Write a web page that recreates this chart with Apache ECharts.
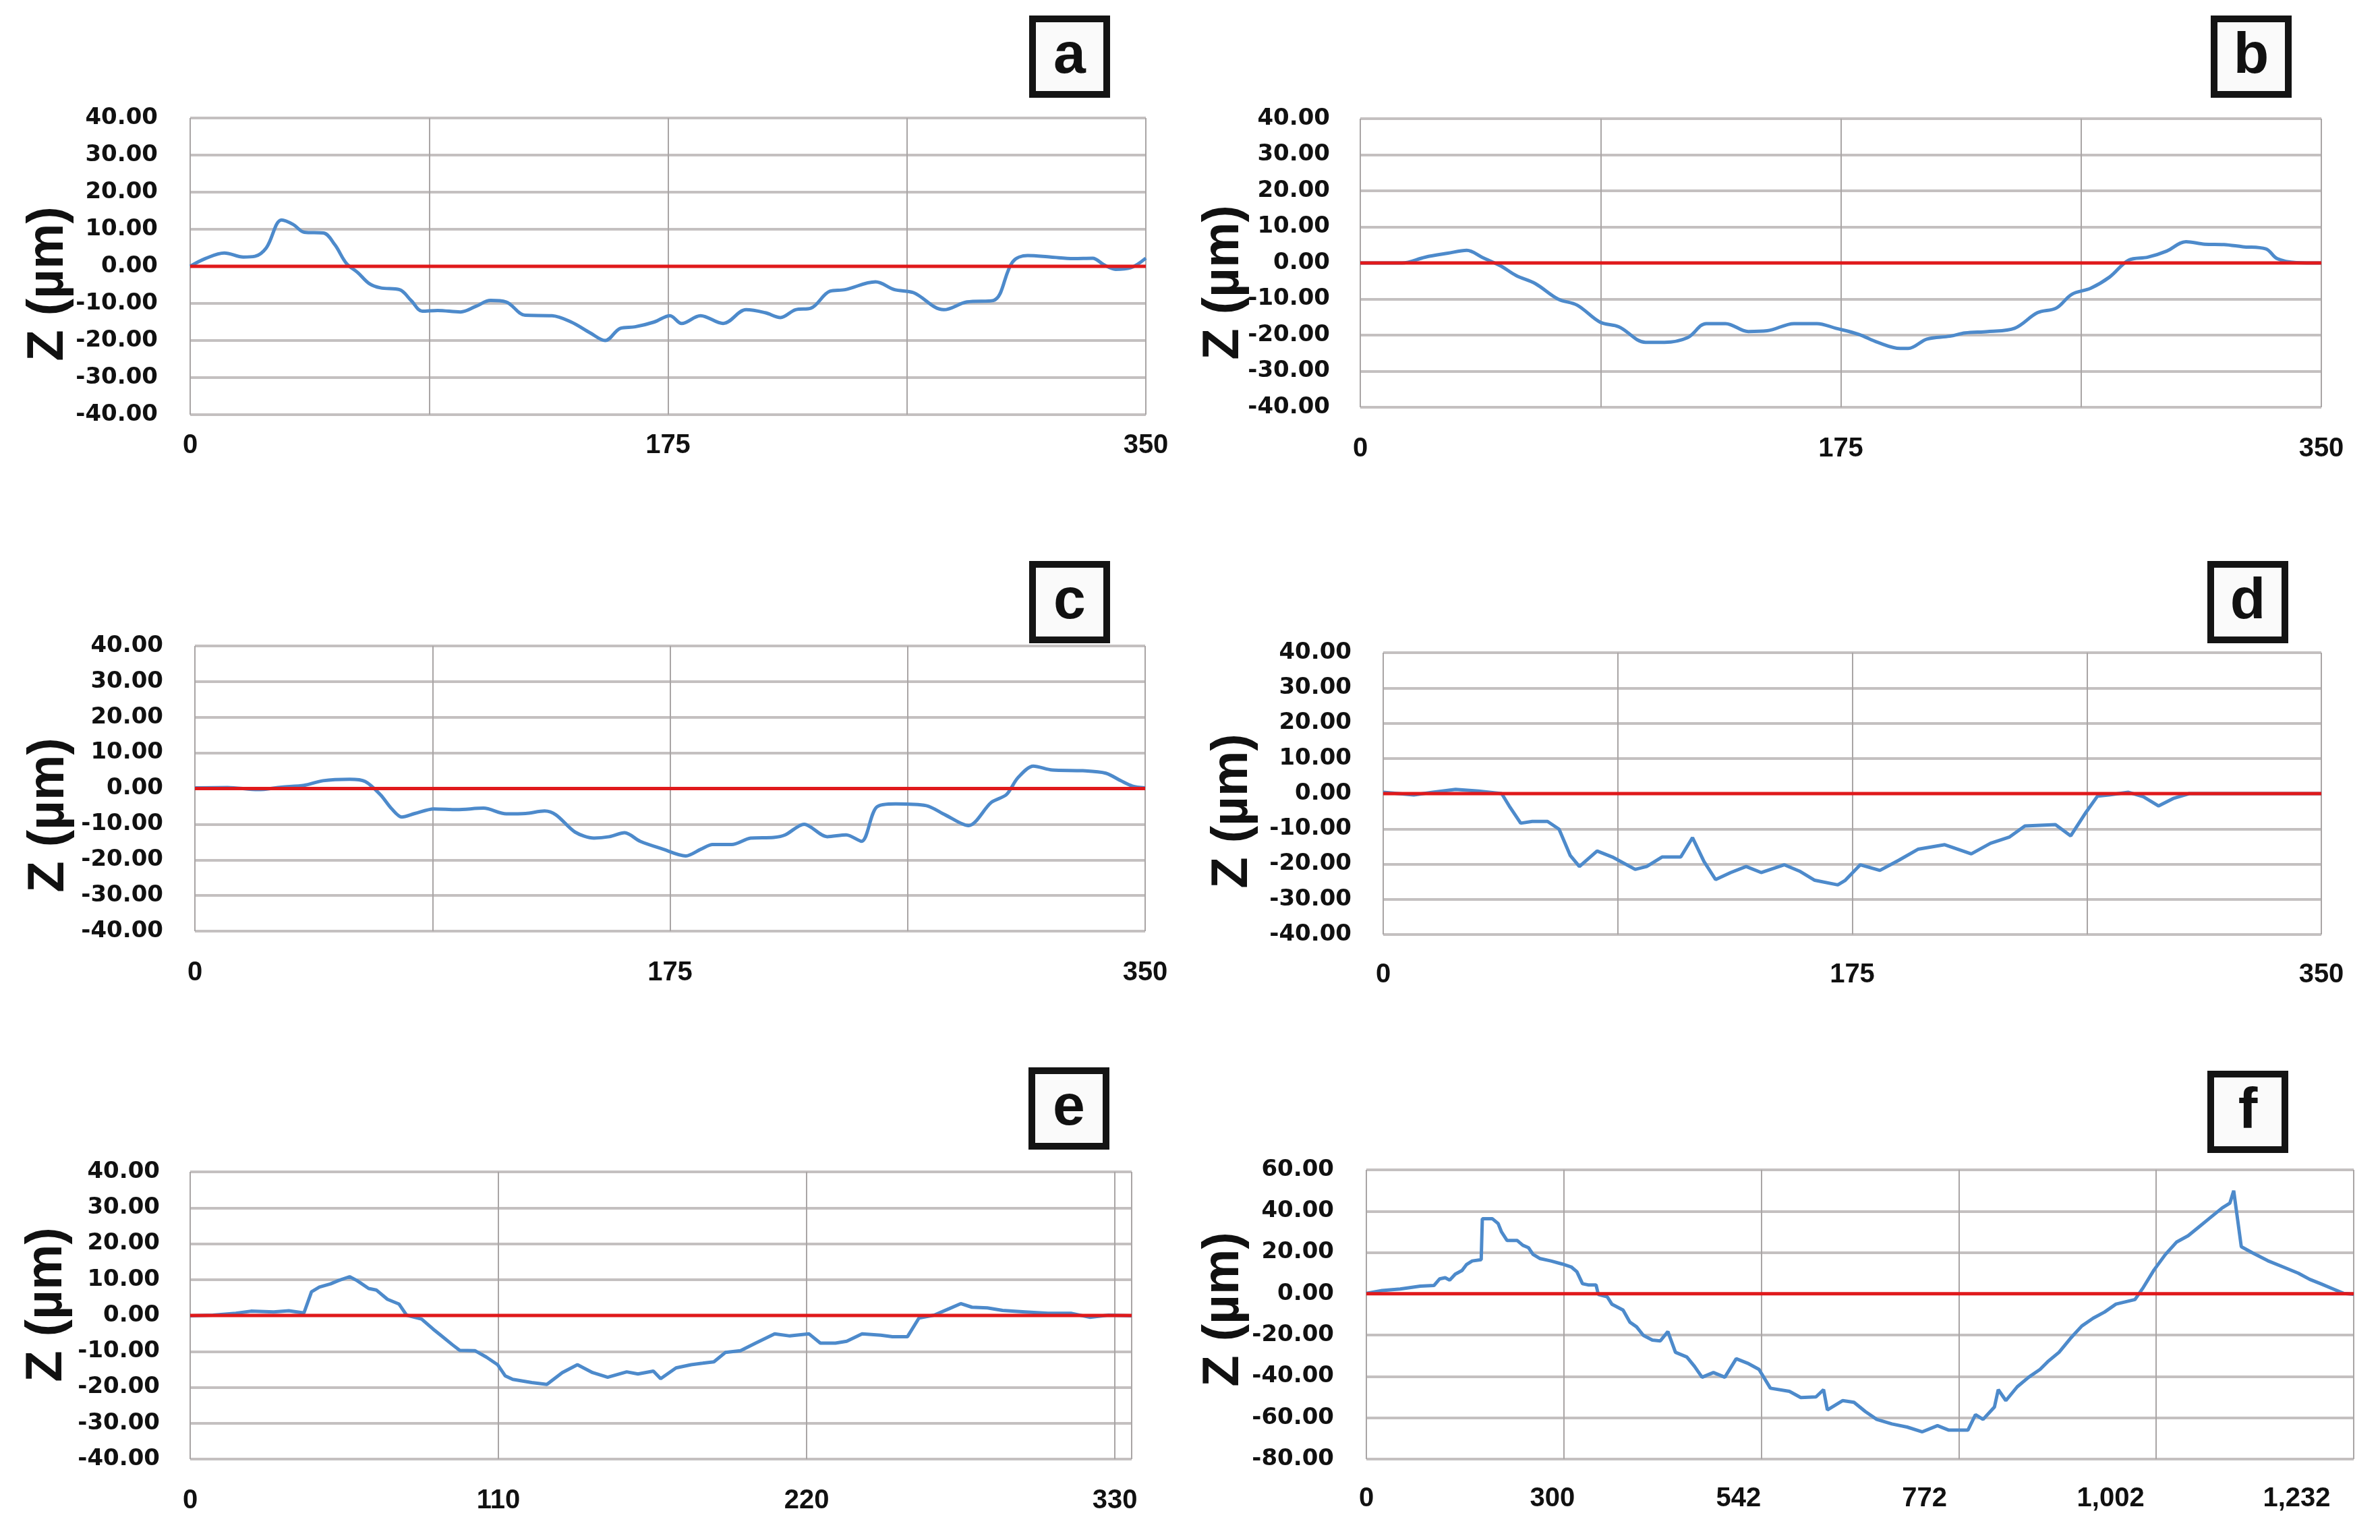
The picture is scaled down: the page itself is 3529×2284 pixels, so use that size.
<!DOCTYPE html>
<html>
<head>
<meta charset="utf-8">
<script src="https://cdn.jsdelivr.net/npm/echarts@6/dist/echarts.min.js"></script>
<style>
html,body{margin:0;padding:0;background:#fff;}
#chart{width:3529px;height:2284px;}
</style>
</head>
<body>
<div id="chart"></div>
<script>
// ---------- DATA (distance, Z in µm) ----------
const panelLetters = ['a','b','c','d','e','f'];
const yTitle = 'Z (µm)';

const ticksABCD = [0, 175, 350];
const ticksE = [0, 110, 220, 330];
const ticksF = ['0', '300', '542', '772', '1,002', '1,232'];

const profileA = [[0,0],[5.6,2.1],[12.5,3.6],[19.5,2.5],[23.7,2.7],[27.9,5],[33.5,12.5],[37.7,11.3],[41.8,9.2],[48.8,9],[53,5.8],[57.2,0.8],[61.4,-1.7],[65.5,-4.6],[69.7,-5.8],[76.7,-6.3],[80.9,-9.2],[85,-12.1],[90.6,-11.9],[99,-12.3],[104.6,-10.8],[110,-9.2],[115.7,-9.6],[122.7,-13.2],[132.5,-13.3],[139.5,-15],[146.4,-17.9],[152,-20],[157.6,-16.7],[163,-16.3],[170,-15],[175.7,-13.3],[180,-15.4],[186.9,-13.3],[195.2,-15.4],[203.6,-11.7],[210.6,-12.5],[216.2,-13.8],[221.7,-11.7],[227.3,-11.3],[234.3,-6.7],[239.8,-6.3],[251,-4.2],[258,-6.3],[264.9,-7.1],[276,-11.7],[284.5,-9.6],[294.2,-9.2],[301.2,1.2],[306.7,2.9],[315.2,2.5],[323.5,2.1],[330.5,2.2],[334.7,0.4],[338.9,-0.8],[344.4,-0.4],[350,2.2]];

const profileB = [[0,0],[15.2,0],[23.6,1.6],[31.9,2.7],[38.8,3.5],[44.3,1.6],[51.3,-0.9],[56.8,-3.5],[63.7,-5.7],[72,-10],[79,-11.7],[87.3,-16.4],[94.2,-17.7],[103.9,-22],[110.8,-22],[119.2,-20.7],[126,-16.8],[133,-16.8],[141.3,-19],[148.2,-18.8],[158,-16.8],[166.3,-16.8],[173.2,-18.1],[181.5,-19.8],[188.4,-22],[196.7,-23.7],[199.5,-23.7],[206.4,-21.1],[214.7,-20.3],[220.3,-19.4],[228.6,-19],[238.3,-18.1],[246.6,-13.8],[253.5,-12.5],[259.1,-8.7],[266,-7],[272.9,-3.9],[279.9,0.8],[286.8,1.6],[293.7,3.3],[300.7,5.9],[307.6,5.2],[314.5,5.1],[321.4,4.5],[329.8,3.9],[333.9,1.2],[340.9,0.1],[350,0]];

const profileC = [[0,0.2],[12,0.3],[23.3,-0.3],[31.8,0.4],[40.2,0.9],[47.2,2.2],[57,2.6],[62.7,2],[68.3,-1.7],[72.5,-5.7],[76.2,-8],[81,-7],[88,-5.7],[96.5,-5.9],[106.3,-5.5],[114.7,-7.1],[121.8,-7],[128.8,-6.3],[133,-7.4],[140,-12.2],[147,-13.9],[152.7,-13.5],[158.3,-12.4],[164,-14.8],[172.4,-17],[180.8,-18.9],[186.4,-17],[190.7,-15.7],[197.7,-15.7],[204.7,-13.9],[213.2,-13.7],[217.4,-13],[224.4,-10],[232.9,-13.5],[239.9,-13],[245.5,-14.8],[251.1,-5.2],[258.1,-4.3],[269.4,-4.8],[276.4,-7.4],[284.9,-10.4],[293.3,-3.9],[298.9,-1.7],[303.1,3],[308.8,6.3],[315.8,5.2],[327,5],[335.5,4.3],[341,2.2],[345.3,0.7],[350,0.2]];

const profileD = [[0,0.4],[11.4,-0.4],[18.5,0.4],[27,1.2],[35.6,0.7],[44.2,0],[47,-3.5],[51.3,-8.4],[55.6,-7.9],[61.3,-7.9],[65.6,-10.1],[69.8,-17.6],[73.2,-20.7],[79.8,-16.3],[85.5,-18],[94,-21.5],[98.3,-20.7],[104,-18],[111,-18],[115.4,-12.5],[119.7,-19.3],[124,-24.4],[129.7,-22.4],[135.4,-20.7],[141,-22.4],[149.6,-20.2],[155.3,-22],[161,-24.6],[169.6,-25.9],[172.4,-24.6],[178,-20.2],[185.3,-21.8],[192.4,-18.9],[199.5,-15.8],[209.5,-14.5],[219.4,-17.1],[226.6,-14.1],[233.7,-12.3],[239.4,-9.2],[250.8,-8.8],[256.5,-12],[262.2,-5.3],[266.5,-0.7],[270.8,-0.4],[277.9,0.4],[283.6,-0.9],[289.3,-3.5],[295,-1.3],[300.7,0],[350,0]];

const profileE = [[0,-0.1],[8.1,0.1],[16.3,0.6],[21.7,1.2],[29.8,1],[35.2,1.3],[40.6,0.7],[43.3,6.6],[46.1,7.9],[50.1,8.8],[52.8,9.7],[56.9,10.8],[59.6,9.7],[63.7,7.5],[66.4,7.1],[70.4,4.5],[74.5,3.2],[77.2,0.1],[82.6,-1],[86.7,-3.8],[89.4,-5.5],[93.5,-8.1],[96.2,-9.7],[101.6,-9.8],[105.7,-11.6],[109.7,-13.7],[112.4,-16.8],[115.1,-17.8],[121.9,-18.7],[127.3,-19.2],[132.8,-15.9],[138.2,-13.7],[143.6,-15.9],[149,-17.2],[155.8,-15.7],[159.8,-16.3],[165.3,-15.5],[167.9,-17.6],[173.4,-14.6],[178.8,-13.7],[182.9,-13.3],[186.9,-12.9],[191,-10.3],[196.4,-9.8],[201.8,-7.7],[208.6,-5.1],[214,-5.7],[220.8,-5.1],[224.9,-7.7],[230.3,-7.7],[234.3,-7.2],[239.8,-5.1],[246.5,-5.5],[250.6,-5.9],[256,-5.9],[260.1,-0.7],[265.5,0.1],[270.9,1.9],[275,3.3],[279,2.3],[284.5,2.1],[289.9,1.4],[298,1],[306.1,0.6],[314.3,0.6],[321,-0.5],[327.8,0.1],[336,-0.1]];

// panel f: position along the (category) axis, Z
const profileF = [[0,0.2],[20.8,1.6],[44.5,2.3],[71,3.7],[89,4],[96.4,7.2],[103.8,7.8],[109.7,6.6],[117,9.5],[126,11.3],[132,14.2],[139.4,15.9],[151.2,16.5],[152.7,36.3],[166,36.3],[173.5,34],[178,29.9],[185.3,25.8],[198.7,25.8],[206,23.5],[213.5,22.3],[219.4,19.1],[228.3,17.1],[243,15.9],[258,14.4],[269.8,13],[277.2,10.7],[284.6,4.9],[292,4.3],[302.4,4.3],[305.4,-0.3],[317.3,-1.5],[323.2,-5],[338,-7.9],[346.9,-13.7],[355.8,-16],[364.7,-20.1],[376.6,-22.4],[387,-22.8],[397,-18.3],[407,-28.3],[422,-30.6],[432,-35.1],[442,-40.4],[457,-38.1],[472,-40.4],[487,-31.4],[502,-33.6],[517,-36.6],[532,-45.7],[557,-47.2],[572,-50.2],[592,-49.9],[602,-46.4],[607,-56.2],[627,-51.7],[642,-52.5],[657,-57],[672,-60.8],[692,-63],[712,-64.5],[732,-66.8],[752,-63.8],[767,-66],[792,-66],[802,-58.5],[812,-60.8],[827,-54.8],[832,-46.4],[842,-51.7],[857,-45],[872,-40.4],[887,-36.6],[897,-32.9],[912,-28.3],[927,-21.6],[942,-15.6],[957,-11.8],[972,-8.8],[987,-5],[1012,-2.8],[1022,2.5],[1037,11.5],[1052,19],[1067,25.1],[1082,28.1],[1097,32.6],[1112,37.1],[1127,41.6],[1137,43.9],[1142,49.9],[1152,22.8],[1167,19.8],[1187,16],[1207,13],[1227,10],[1242,7],[1257,4.8],[1272,2.5],[1287,0.2],[1300,-0.2]];

const profiles = [profileA, profileB, profileC, profileD, profileE, profileF];

// ---------- LAYOUT ----------
const grids = [
  {left: 282, top: 175, width: 1417, height: 440},
  {left: 2017, top: 176, width: 1425, height: 428},
  {left: 289, top: 958, width: 1409, height: 423},
  {left: 2051, top: 968, width: 1391, height: 418},
  {left: 282, top: 1738, width: 1396, height: 426},
  {left: 2026, top: 1735, width: 1464, height: 429}
];
const xMax = [350, 350, 350, 350, 336, 1300];
const xInterval = [87.5, 87.5, 87.5, 87.5, 110, 260];
const yMin = [-40, -40, -40, -40, -40, -80];
const yMax = [40, 40, 40, 40, 40, 60];
const yInterval = [10, 10, 10, 10, 10, 20];
const xLabelMargin = [26, 42, 42, 40, 42, 39];
const yLabelMargin = [48, 45, 47, 47, 45, 48];
const smoothness = [0.35, 0.35, 0.3, 0, 0, 0];
const titlePos = [[72, 421], [1815, 419], [73, 1209], [1828, 1203], [70, 1935], [1815, 1942]];
const boxPos = [[1586, 84], [3338, 84], [1586, 893], [3333, 893], [1585, 1644], [3333, 1649]];

const hGrid = {show: true, lineStyle: {color: '#c4c0c0', width: 4}};
const vGrid = {show: true, lineStyle: {color: '#a9a5a5', width: 2}};
const xLabelFont = {fontFamily: 'Liberation Sans', fontWeight: 'bold', fontSize: 40, color: '#111'};
const yLabelFont = {fontFamily: 'DejaVu Sans', fontWeight: 'bold', fontSize: 34, color: '#111'};

const xAxes = [], yAxes = [], series = [], graphics = [];
for (let i = 0; i < 6; i++) {
  const isF = i === 5;
  xAxes.push({
    gridIndex: i, type: 'value', min: 0, max: xMax[i], interval: xInterval[i],
    axisLine: {show: false}, axisTick: {show: false}, splitLine: vGrid,
    axisLabel: isF ? {show: false} : Object.assign({
      margin: xLabelMargin[i], showMinLabel: true, showMaxLabel: true,
      formatter: v => {
        const list = i === 4 ? ticksE : ticksABCD;
        return list.indexOf(v) >= 0 ? String(v) : '';
      }
    }, xLabelFont)
  });
  yAxes.push({
    gridIndex: i, type: 'value', min: yMin[i], max: yMax[i], interval: yInterval[i],
    axisLine: {show: false}, axisTick: {show: false}, splitLine: hGrid,
    axisLabel: Object.assign({margin: yLabelMargin[i], showMinLabel: true, showMaxLabel: true,
      formatter: v => v.toFixed(2)}, yLabelFont)
  });
}
// extra label axis for panel f (labels not aligned with gridlines)
xAxes.push({
  gridIndex: 5, type: 'value', position: 'bottom', min: 0, max: 1300, interval: 245,
  axisLine: {show: false}, axisTick: {show: false}, splitLine: {show: false},
  axisLabel: Object.assign({margin: xLabelMargin[5], showMinLabel: true, showMaxLabel: true,
    formatter: v => {
      const k = v / 245;
      return (Number.isInteger(k) && k < ticksF.length) ? ticksF[k] : '';
    }}, xLabelFont)
});

for (let i = 0; i < 6; i++) {
  series.push({
    type: 'line', xAxisIndex: i, yAxisIndex: i, data: profiles[i],
    showSymbol: false, symbol: 'none', smooth: smoothness[i], z: 3,
    lineStyle: {color: '#4d8acb', width: 5}
  });
  series.push({
    type: 'line', xAxisIndex: i, yAxisIndex: i, data: [[0, 0], [xMax[i], 0]],
    showSymbol: false, symbol: 'none', z: 4,
    lineStyle: {color: '#e0191b', width: 5}
  });
  graphics.push({
    type: 'text', x: titlePos[i][0], y: titlePos[i][1], rotation: Math.PI / 2,
    style: {text: yTitle, fontFamily: 'Liberation Sans', fontWeight: 'bold', fontSize: 76,
      fill: '#111', align: 'center', verticalAlign: 'middle'}
  });
  graphics.push({
    type: 'group', x: boxPos[i][0], y: boxPos[i][1],
    children: [
      {type: 'rect', shape: {x: -55, y: -56, width: 110, height: 112},
        style: {fill: '#fafafa', stroke: '#141414', lineWidth: 10}},
      {type: 'text', x: 0, y: 0,
        style: {text: panelLetters[i], fontFamily: 'Liberation Sans', fontWeight: 'bold',
          fontSize: 86, fill: '#111', align: 'center', verticalAlign: 'middle'}}
    ]
  });
}

const chart = echarts.init(document.getElementById('chart'), null, {renderer: 'canvas'});
chart.setOption({
  backgroundColor: '#ffffff',
  animation: false,
  grid: grids,
  xAxis: xAxes,
  yAxis: yAxes,
  series: series,
  graphic: graphics
});
</script>
</body>
</html>
